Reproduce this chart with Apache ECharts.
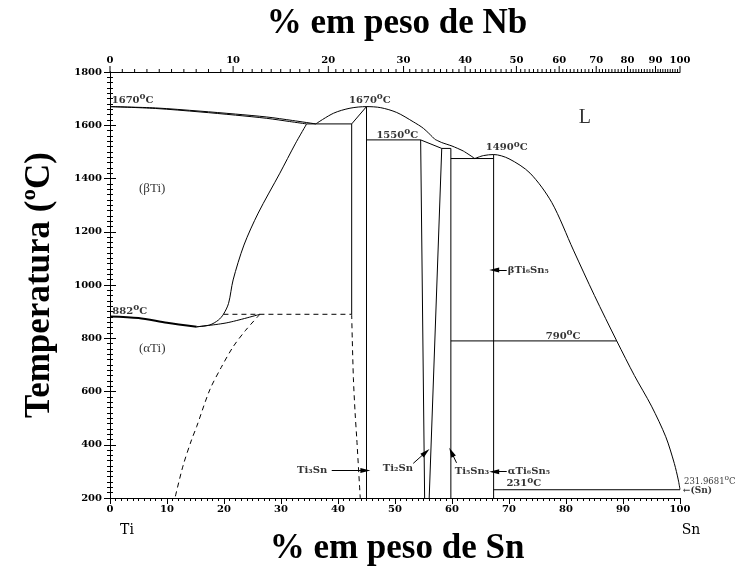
<!DOCTYPE html>
<html><head><meta charset="utf-8">
<script src="https://cdn.jsdelivr.net/npm/echarts/dist/echarts.min.js"></script>
<style>html,body{margin:0;padding:0;background:#fff}#c{width:738px;height:567px}</style>
</head><body><div id="c"></div>
<script>
// ---- axis tick data ----
const topTickLabels = ['0','10','20','30','40','50','60','70','80','90','100'];
const topTickPositions = [0,21.6,38.3,51.5,62.3,71.3,78.8,85.3,90.8,95.7,100];

// ---- phase boundaries (x = wt% Sn, y = T in C) ----
const liqBetaTi = [[0,1670],[8,1665],[15.8,1653],[22,1642],[27.5,1631],[32,1618],[36.1,1605]];
const solBetaTi = [[0,1670],[8,1663],[15.8,1650],[22,1638],[27.5,1626],[31.5,1614],[34.5,1605]];
const betaTransus = [[15.2,843],[17.5,850],[19,868],[19.9,890],[20.8,931],[21.6,1019],[23.5,1150],[26,1270],[29.8,1420],[32.5,1530],[34.5,1605]];
const alphaBeta882 = [[0,882],[5,876],[10,858],[15.2,843]];
const alphaBoundary = [[15.2,843],[20.5,858],[26.3,890]];
const alphaSolvus = [[26.3,890],[23.8,830],[21.6,768],[19.5,690],[17.5,606],[15.2,468],[14.3,418],[12.8,320],[11.4,200]];
const ti3SnSolvus = [[42.4,890],[42.5,800],[42.7,650],[43.0,520],[43.3,420],[43.9,200]];
const line890 = [[19.9,890],[42.4,890]];
const line1605 = [[34.5,1605],[42.4,1605]];
const ti3SnCap = [[42.4,1605],[45,1670]];
const ti3SnLeft = [[42.4,1605],[42.4,890]];
const ti3SnRight = [[45,1670],[45,200]];
const liqDome = [[36.1,1605],[39.2,1645],[42.1,1664],[45,1670],[47.5,1666],[50.3,1648],[53.2,1613],[55,1588],[57,1547]];
const liqMid = [[57,1547],[58.2,1535],[60,1522],[62,1503],[64,1475]];
const liqSn = [[64,1475],[65.5,1486],[67.3,1490],[70,1474],[73.7,1420],[77.5,1310],[81.3,1131],[85,960],[88.9,790],[92,660],[95,545],[97.5,430],[99,330],[99.7,268],[100,232]];
const line1550 = [[45,1545],[54.5,1545]];
const ti2SnTop = [[54.5,1545],[58.2,1513]];
const ti5Sn3Top = [[58.2,1513],[59.8,1513]];
const ti2SnLeft = [[54.5,1545],[55.2,200]];
const ti2SnRight = [[58.2,1513],[56.0,200]];
const ti5Sn3Line = [[59.8,1513],[59.8,200]];
const eutectic1475 = [[59.8,1475],[67.3,1475]];
const ti6Sn5Line = [[67.3,1490],[67.3,200]];
const line790 = [[59.8,790],[88.9,790]];
const line231 = [[67.3,231],[100,231]];

const SERIF = '"DejaVu Serif", serif';
const TIMES = '"Liberation Serif", "Times New Roman", serif';

function ln(data, opt) {
  opt = opt || {};
  return {
    type: 'line', data: data, showSymbol: false, symbol: 'none', silent: true,
    smooth: opt.smooth || false, animation: false, z: 3,
    lineStyle: { color: '#000', width: opt.width || 1, type: opt.dash ? [5,4] : 'solid' }
  };
}

// annotations ({o|o} = superscript degree "o")
const notes = [
  { v:[0.3,1695], t:'1670{o|o}C', align:'left' },
  { v:[45.6,1695], t:'1670{o|o}C', align:'center' },
  { v:[50.4,1563], t:'1550{o|o}C', align:'center' },
  { v:[69.6,1515], t:'1490{o|o}C', align:'center' },
  { v:[0.4,902], t:'882{o|o}C', align:'left' },
  { v:[79.5,808], t:'790{o|o}C', align:'center' },
  { v:[72.6,253], t:'231{o|o}C', align:'center' },
  { v:[100.7,262], t:'231.9681{o|o}C', align:'left', size: 8.5, weight: 'normal' },
  { v:[100.5,226], t:'←(Sn)', align:'left', size: 9 },
  { v:[69.8,299], t:'αTi₆Sn₅', align:'left' },
  { v:[69.8,1056], t:'βTi₆Sn₅', align:'left' },
  { v:[38.1,305], t:'Ti₃Sn', align:'right' },
  { v:[50.5,313], t:'Ti₂Sn', align:'center' },
  { v:[63.5,301], t:'Ti₅Sn₃', align:'center' }
];
const bigNotes = [
  { v:[83.3,1627], t:'L', size:20 },
  { v:[7.4,1364], t:'(βTi)', size:13 },
  { v:[7.4,760], t:'(αTi)', size:13 }
];
const arrows = [
  [[69.6,1056],[67.4,1056]],
  [[69.6,299],[67.4,299]],
  [[38.9,303],[44.8,303]],
  [[53.2,330],[55.4,372]],
  [[60.8,332],[59.9,372]]
];

// top axis ticks
const topTicks = [];
for (let i = 0; i < topTickPositions.length; i++) {
  topTicks.push([topTickPositions[i], 1800, 1, i]);
  if (i < topTickPositions.length - 1) {
    for (let k = 1; k < 10; k++) {
      topTicks.push([topTickPositions[i] + (topTickPositions[i+1]-topTickPositions[i])*k/10, 1800, 0, -1]);
    }
  }
}

const series = [
  ln(liqBetaTi, {smooth:0.3}), ln(solBetaTi, {smooth:0.3}),
  ln(betaTransus, {smooth:0.3}), ln(alphaBeta882, {smooth:0.3, width:2}),
  ln(alphaBoundary, {smooth:0.3}), ln(alphaSolvus, {smooth:0.3, dash:true}),
  ln(ti3SnSolvus, {smooth:0.3, dash:true}), ln(line890, {dash:true}),
  ln(line1605), ln(ti3SnCap), ln(ti3SnLeft), ln(ti3SnRight),
  ln(liqDome, {smooth:0.3}), ln(liqMid, {smooth:0.2}), ln(liqSn, {smooth:0.3}),
  ln(line1550), ln(ti2SnTop), ln(ti5Sn3Top), ln(ti2SnLeft), ln(ti2SnRight),
  ln(ti5Sn3Line), ln(eutectic1475), ln(ti6Sn5Line), ln(line790), ln(line231),
  {
    type: 'scatter', symbolSize: 0, silent: true, animation: false, clip: false, z: 5,
    data: notes.map(n => ({ value: n.v, name: n.t, label: { align: n.align, fontSize: n.size || 10,
      fontWeight: n.weight || 'bold',
      rich: { o: { fontFamily: SERIF, fontWeight: n.weight || 'bold', fontSize: (n.size || 10) - 1, lineHeight: 9,
                   verticalAlign: 'top', color: '#000' } } } })),
    label: { show: true, position: 'inside', formatter: p => p.name, color: '#000',
             fontFamily: SERIF, fontWeight: 'bold', fontSize: 10, lineHeight: 15, verticalAlign: 'middle' }
  },
  {
    type: 'scatter', symbolSize: 0, silent: true, animation: false, clip: false, z: 5,
    data: bigNotes.map(n => ({ value: n.v, name: n.t, label: { fontSize: n.size } })),
    label: { show: true, position: 'inside', formatter: p => p.name, color: '#000',
             fontFamily: TIMES, align: 'center', verticalAlign: 'middle' }
  },
  {
    type: 'line', data: [], silent: true, animation: false,
    markLine: {
      silent: true, animation: false, symbol: ['none','triangle'], symbolSize: [5,10],
      label: { show: false }, lineStyle: { color: '#000', width: 1, type: 'solid' },
      data: arrows.map(a => [{ coord: a[0] }, { coord: a[1] }])
    }
  },
  {
    type: 'custom', silent: true, animation: false, clip: false, z: 6,
    data: topTicks,
    renderItem: function (params, api) {
      const p = api.coord([api.value(0), api.value(1)]);
      const major = api.value(2) === 1;
      const children = [{
        type: 'line',
        shape: { x1: p[0], y1: p[1], x2: p[0], y2: p[1] - (major ? 6 : 3) },
        style: { stroke: '#000', lineWidth: 1 }
      }];
      if (major) {
        children.push({
          type: 'text',
          style: { text: topTickLabels[api.value(3)], x: p[0], y: p[1] - 7,
                   align: 'center', verticalAlign: 'bottom', fill: '#000',
                   font: 'bold 10px ' + SERIF }
        });
      }
      return { type: 'group', children: children };
    }
  }
];

const axisFont = { fontFamily: SERIF, fontSize: 10, fontWeight: 'bold', color: '#000' };
const option = {
  animation: false,
  backgroundColor: '#fff',
  grid: { left: 110, right: 58, top: 72, bottom: 69 },
  xAxis: [
    { type: 'value', position: 'bottom', min: 0, max: 100, interval: 10,
      axisLine: { lineStyle: { color: '#000', width: 1 } },
      axisTick: { length: 6, lineStyle: { color: '#000' } },
      minorTick: { show: true, splitNumber: 10, length: 3, lineStyle: { color: '#000' } },
      axisLabel: Object.assign({ margin: 6, formatter: v => String(v) }, axisFont),
      splitLine: { show: false }, minorSplitLine: { show: false } },
    { type: 'value', position: 'top', min: 0, max: 100,
      axisLine: { show: true, lineStyle: { color: '#000', width: 1 } },
      axisTick: { show: false }, axisLabel: { show: false }, splitLine: { show: false } }
  ],
  yAxis: [
    { type: 'value', position: 'left', min: 200, max: 1800, interval: 200,
      axisLine: { show: true, lineStyle: { color: '#000', width: 1 } },
      axisTick: { show: true, length: 6, lineStyle: { color: '#000' } },
      minorTick: { show: true, splitNumber: 10, length: 3, lineStyle: { color: '#000' } },
      axisLabel: Object.assign({ margin: 8, formatter: v => String(v) }, axisFont),
      splitLine: { show: false } },
    { type: 'value', position: 'right', min: 200, max: 1800, interval: 200,
      axisLine: { show: true, lineStyle: { color: '#000', width: 1 } },
      axisTick: { show: true, length: 6, lineStyle: { color: '#000' } },
      minorTick: { show: true, splitNumber: 10, length: 3, lineStyle: { color: '#000' } },
      axisLabel: { show: false }, splitLine: { show: false } }
  ],
  graphic: [
    { type: 'text', x: 397, y: 24, style: { text: '% em peso de Nb', align: 'center', verticalAlign: 'middle',
      font: 'bold 35px ' + TIMES, fill: '#000' } },
    { type: 'text', x: 397, y: 549, style: { text: '% em peso de Sn', align: 'center', verticalAlign: 'middle',
      font: 'bold 35px ' + TIMES, fill: '#000' } },
    { type: 'text', x: 40, y: 285, rotation: Math.PI / 2, style: { text: 'Temperatura (ºC)', align: 'center',
      verticalAlign: 'middle', font: 'bold 35px ' + TIMES, fill: '#000' } },
    { type: 'text', x: 127, y: 530, style: { text: 'Ti', align: 'center', verticalAlign: 'middle',
      font: '14px ' + SERIF, fill: '#000' } },
    { type: 'text', x: 691, y: 530, style: { text: 'Sn', align: 'center', verticalAlign: 'middle',
      font: '14px ' + SERIF, fill: '#000' } }
  ],
  series: series
};
const chart = echarts.init(document.getElementById('c'), null, { renderer: 'canvas' });
chart.setOption(option);
</script>
</body></html>
